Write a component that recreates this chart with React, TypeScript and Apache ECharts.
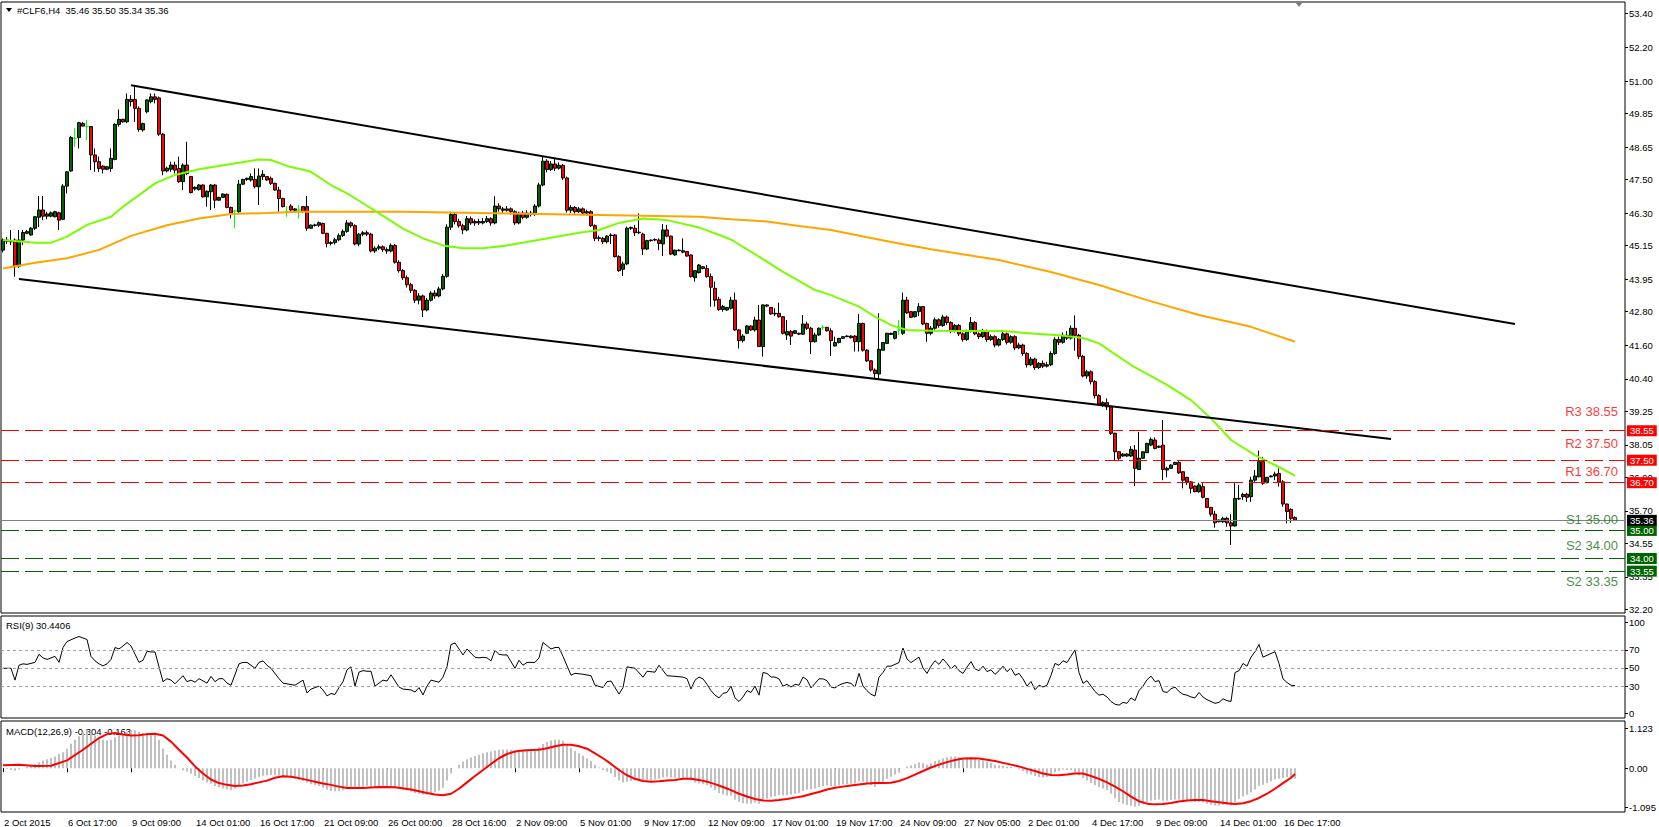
import React, { useEffect, useRef } from "react";
import * as echarts from "echarts";

const FONT = "Liberation Sans";

const timeLabels = [
  "2 Oct 2015", "6 Oct 17:00", "9 Oct 09:00", "14 Oct 01:00", "16 Oct 17:00",
  "21 Oct 09:00", "26 Oct 00:00", "28 Oct 16:00", "2 Nov 09:00", "5 Nov 01:00",
  "9 Nov 17:00", "12 Nov 09:00", "17 Nov 01:00", "19 Nov 17:00", "24 Nov 09:00",
  "27 Nov 05:00", "2 Dec 01:00", "4 Dec 17:00", "9 Dec 09:00", "14 Dec 01:00",
  "16 Dec 17:00",
];
const labelStep = 16;
const barSlots = 406;

// [open, close, low, high]
const ohlc: number[][] = [
  [44.98,45.34,44.90,45.40],[45.34,45.30,45.20,45.45],[45.30,45.28,45.16,45.70],[45.34,44.39,44.03,45.40],[44.41,45.34,44.35,45.70],
  [45.34,45.61,45.16,45.70],[45.58,45.64,45.55,45.70],[45.52,45.76,45.50,45.80],[45.76,46.17,45.70,46.20],[46.15,46.41,45.81,46.91],
  [46.41,46.19,46.05,46.91],[46.19,46.27,46.08,46.35],[46.19,46.31,46.15,46.36],[46.17,46.35,46.15,46.38],[46.31,46.05,45.70,46.35],
  [46.08,47.26,46.05,47.33],[47.26,47.77,47.00,47.80],[47.80,48.99,47.77,49.05],[48.96,48.96,48.66,49.32],[48.99,49.52,48.60,49.55],
  [49.49,49.40,49.38,49.55],[49.38,49.38,48.90,49.61],[49.38,48.37,47.83,49.40],[48.37,48.13,47.77,48.60],[48.13,47.89,47.77,48.31],
  [47.97,47.86,47.71,48.00],[47.86,47.95,47.83,47.97],[47.89,48.25,47.77,48.60],[48.21,49.46,48.18,49.50],[49.46,49.64,49.38,49.99],
  [49.64,49.55,49.52,49.66],[49.55,50.35,49.50,50.56],[50.35,50.27,50.10,50.50],[50.35,50.03,49.55,50.86],[50.03,49.28,49.20,50.10],
  [49.26,49.49,49.20,49.52],[49.91,50.33,49.85,50.35],[50.27,50.44,50.21,50.56],[50.44,50.35,50.21,50.56],[50.40,49.11,49.05,50.45],
  [49.11,47.80,47.65,49.15],[47.80,47.90,47.75,47.95],[47.86,48.01,47.77,48.13],[48.01,47.83,47.71,48.13],[47.89,47.42,47.38,48.31],
  [47.42,48.01,47.12,48.07],[48.01,47.71,47.65,48.84],[47.60,47.03,47.00,47.62],[47.22,47.16,47.10,47.25],[47.14,47.30,47.10,47.33],
  [47.30,46.88,46.85,47.33],[46.88,47.08,46.53,47.10],[47.06,47.30,46.41,47.33],[47.30,46.76,46.47,47.33],[46.76,46.86,46.74,46.88],
  [46.86,46.98,46.84,47.00],[46.97,46.50,46.47,47.00],[46.50,46.31,46.11,46.53],[46.38,46.38,45.76,46.41],[46.35,47.33,46.31,47.48],
  [47.33,47.50,47.30,47.52],[47.50,47.54,47.45,47.56],[47.48,47.60,47.42,47.71],[47.50,47.24,47.18,47.89],[47.24,47.62,46.59,47.89],
  [47.60,47.68,47.48,47.83],[47.60,47.48,47.45,47.62],[47.54,47.36,47.30,47.60],[47.36,47.12,47.10,47.38],[47.12,46.82,46.35,47.24],
  [46.82,46.53,46.50,46.85],[46.35,46.35,46.17,46.55],[46.55,46.41,46.35,46.62],[46.45,46.40,46.35,46.47],[46.41,46.41,46.11,46.59],
  [46.53,46.35,46.31,46.55],[46.53,45.76,45.67,46.91],[45.76,45.87,45.74,45.90],[45.88,45.86,45.82,45.92],[45.87,45.96,45.81,46.00],
  [45.93,45.58,45.55,45.96],[45.58,45.22,45.08,45.60],[45.22,45.25,45.15,45.30],[45.25,45.35,45.18,45.42],[45.35,45.50,45.30,45.58],
  [45.50,45.65,45.45,45.72],[45.65,45.95,45.60,46.05],[45.95,45.85,45.78,46.00],[45.85,45.20,45.15,45.90],[45.20,45.55,45.12,45.60],
  [45.55,45.60,45.48,45.66],[45.60,45.55,45.48,45.68],[45.55,44.95,44.90,45.60],[44.95,45.05,44.88,45.12],[45.05,45.10,44.98,45.18],
  [45.10,45.00,44.92,45.15],[45.00,44.95,44.85,45.08],[44.95,45.15,44.90,45.22],[45.15,44.55,44.50,45.20],[44.55,44.25,44.18,44.62],
  [44.25,44.00,43.92,44.30],[44.00,43.75,43.65,44.08],[43.75,43.55,43.45,43.82],[43.55,43.20,43.10,43.60],[43.20,43.35,43.05,43.45],
  [43.35,42.85,42.60,43.40],[42.85,43.20,42.80,43.28],[43.20,43.45,43.15,43.52],[43.45,43.35,43.25,43.55],[43.35,43.60,43.30,43.68],
  [43.60,44.05,43.55,44.12],[44.05,45.80,44.00,45.90],[45.80,46.25,45.70,46.35],[46.25,46.00,45.90,46.30],[46.00,45.85,45.78,46.10],
  [45.85,45.70,45.55,45.92],[45.70,46.10,45.65,46.20],[46.10,45.95,45.88,46.18],[45.95,46.00,45.85,46.08],[46.00,45.95,45.88,46.10],
  [45.95,46.00,45.90,46.12],[46.00,46.10,45.95,46.20],[46.10,45.95,45.85,46.15],[45.95,46.55,45.90,46.90],[46.55,46.45,46.35,46.65],
  [46.45,46.40,46.30,46.52],[46.40,46.45,46.35,46.55],[46.45,46.35,46.25,46.50],[46.35,45.95,45.88,46.40],[45.95,46.30,45.90,46.35],
  [46.30,46.15,46.08,46.38],[46.15,46.30,46.10,46.40],[46.30,46.25,46.18,46.38],[46.25,46.55,46.20,46.62],[46.55,47.30,46.50,47.38],
  [47.30,48.15,47.25,48.30],[48.15,47.85,47.75,48.22],[47.85,48.05,47.80,48.15],[48.05,47.90,47.80,48.25],[47.90,48.00,47.85,48.10],
  [48.00,47.55,47.48,48.05],[47.55,46.40,46.32,47.60],[46.40,46.50,46.30,46.58],[46.50,46.35,46.28,46.55],[46.35,46.45,46.30,46.52],
  [46.45,46.30,46.22,46.50],[46.30,46.35,46.25,46.42],[46.35,45.85,45.80,46.40],[45.85,45.40,45.30,45.90],[45.40,45.42,45.30,45.50],
  [45.40,45.28,45.20,45.45],[45.28,45.48,45.22,45.52],[45.50,45.52,45.20,45.58],[45.52,44.75,44.72,45.55],[44.75,44.25,44.21,44.80],
  [44.30,44.49,44.06,44.57],[44.49,45.76,44.45,45.82],[45.76,45.79,45.70,45.82],[45.76,45.60,45.48,45.88],[45.62,45.60,45.55,46.29],
  [45.55,45.02,44.81,45.60],[45.02,45.32,44.98,45.35],[45.32,45.34,45.28,45.36],[45.34,45.36,45.30,45.40],[45.34,45.22,44.98,45.40],
  [45.20,45.70,44.77,45.91],[45.70,45.48,45.44,45.88],[45.48,44.84,44.81,45.50],[44.81,44.98,44.78,45.00],[44.98,44.96,44.94,45.01],
  [44.96,44.91,44.87,45.40],[44.93,44.77,44.75,44.95],[44.81,44.04,44.00,44.83],[44.00,44.25,43.86,44.27],[44.18,44.45,44.15,44.49],
  [44.39,44.33,44.30,44.42],[44.33,44.04,44.00,44.45],[44.04,43.66,42.97,44.15],[43.62,43.20,42.97,43.86],[43.23,42.87,42.82,43.32],
  [42.87,42.97,42.79,43.03],[42.85,42.94,42.82,42.96],[42.91,43.20,42.87,43.32],[43.20,42.14,42.11,43.47],[42.14,41.76,41.48,42.16],
  [41.76,41.92,41.69,41.99],[42.02,42.28,41.99,42.31],[42.28,42.14,42.10,42.30],[42.14,42.49,42.08,42.61],[42.49,41.55,41.55,43.03],
  [41.55,43.03,41.19,43.05],[43.03,42.99,42.95,43.05],[42.94,42.71,42.68,42.96],[42.73,42.71,42.63,42.91],[42.73,42.61,42.58,43.11],
  [42.61,42.02,41.98,42.63],[41.96,42.08,41.78,42.49],[42.08,41.92,41.60,42.14],[42.02,42.11,41.99,42.13],[42.02,41.99,41.96,42.04],
  [41.99,42.35,41.96,42.67],[42.35,42.20,42.14,42.43],[42.20,41.72,41.28,42.25],[41.72,41.96,41.69,42.04],[41.96,42.20,41.93,42.23],
  [42.23,42.23,42.14,42.31],[42.23,42.11,42.08,42.25],[42.11,41.76,41.21,42.20],[41.57,41.69,41.55,41.90],[41.69,41.84,41.66,41.86],
  [41.84,41.90,41.82,41.92],[41.90,41.92,41.88,41.95],[41.92,41.86,41.84,41.95],[41.92,41.72,41.37,41.95],[41.72,42.37,41.37,42.71],
  [42.37,41.42,41.37,42.40],[41.42,41.04,41.00,41.45],[41.04,40.71,40.65,41.06],[40.71,40.59,40.41,40.77],[40.57,41.45,40.38,42.73],
  [41.42,41.69,41.40,41.70],[41.66,42.02,41.64,42.04],[41.98,42.02,41.96,42.04],[41.84,42.08,41.80,42.10],[42.14,42.14,41.96,42.49],
  [42.02,43.20,41.96,43.47],[43.20,42.75,42.71,43.32],[42.79,42.59,42.56,42.80],[42.61,42.79,42.58,42.80],[42.79,42.97,42.63,43.09],
  [42.97,42.35,42.31,42.99],[42.37,42.02,41.72,42.40],[42.02,42.20,41.95,42.28],[42.20,42.50,42.15,42.58],[42.50,42.30,42.22,42.55],
  [42.30,42.60,42.25,42.68],[42.60,42.40,42.32,42.65],[42.40,42.10,42.02,42.45],[42.10,42.30,42.05,42.35],[42.30,42.00,41.92,42.35],
  [42.00,41.80,41.72,42.05],[41.80,42.10,41.75,42.15],[42.10,42.40,42.05,42.60],[42.40,42.00,41.95,42.45],[42.00,41.90,41.82,42.05],
  [41.90,42.10,41.85,42.18],[42.10,41.80,41.72,42.15],[41.80,41.90,41.75,41.98],[41.90,41.60,41.52,41.95],[41.60,41.80,41.55,41.85],
  [41.80,42.00,41.75,42.08],[42.00,41.70,41.62,42.05],[41.70,41.90,41.65,41.95],[41.90,41.50,41.42,41.95],[41.50,41.60,41.45,41.68],
  [41.60,41.30,41.22,41.65],[41.30,40.90,40.80,41.35],[40.90,41.10,40.85,41.18],[41.10,40.80,40.72,41.15],[40.80,40.95,40.75,41.00],
  [40.95,40.85,40.78,41.05],[40.85,40.90,40.80,41.00],[40.90,41.30,40.85,41.38],[41.30,41.80,41.25,41.88],[41.80,41.70,41.60,41.90],
  [41.70,41.95,41.65,42.05],[41.95,41.85,41.78,42.10],[41.85,42.20,41.80,42.30],[42.20,41.95,41.40,42.66],[41.95,41.20,41.10,42.00],
  [41.20,40.50,40.45,41.25],[40.50,40.65,40.40,40.72],[40.65,40.30,40.20,40.70],[40.30,39.80,39.70,40.35],[39.80,39.50,39.45,39.85],
  [39.45,39.55,39.40,39.60],[39.55,39.40,39.29,39.70],[39.40,38.46,38.40,39.42],[38.46,37.80,37.51,38.48],[37.80,37.57,37.48,37.82],
  [37.65,37.72,37.62,37.75],[37.72,37.65,37.62,37.75],[37.65,37.89,37.62,38.00],[37.86,37.21,36.58,38.04],[37.17,37.57,37.15,38.51],
  [37.57,37.80,37.55,37.82],[37.77,38.10,37.75,38.12],[38.04,38.24,38.00,38.31],[38.22,37.92,37.89,38.31],[37.96,38.00,37.94,38.02],
  [38.04,37.17,36.79,38.93],[37.21,37.15,36.89,37.27],[37.21,37.33,37.20,37.35],[37.35,37.42,37.33,37.45],[37.42,37.05,37.01,37.48],
  [37.09,36.79,36.50,37.10],[36.89,36.73,36.62,36.91],[36.73,36.50,36.32,36.75],[36.58,36.38,36.36,36.60],[36.38,36.62,36.34,36.70],
  [36.56,36.18,36.14,36.68],[36.14,35.82,35.80,36.15],[35.82,35.58,35.49,35.84],[35.58,35.27,35.10,35.70],[35.37,35.31,35.29,35.39],
  [35.31,35.43,35.27,35.49],[35.43,35.27,35.13,35.49],[35.27,35.16,34.48,35.58],[35.16,36.14,35.13,36.68],[36.14,36.12,36.08,36.62],
  [36.20,36.28,36.08,36.34],[36.29,36.18,36.02,36.34],[36.20,36.79,36.02,36.91],[36.79,36.94,36.73,37.15],[36.91,37.45,36.89,37.84],
  [37.45,36.68,36.62,37.62],[36.70,36.89,36.68,36.91],[36.91,36.94,36.89,36.96],[36.94,37.01,36.79,37.09],[37.03,36.73,36.56,37.21],
  [36.73,35.94,35.84,36.79],[35.94,35.67,35.25,35.96],[35.75,35.43,35.27,35.79],[35.46,35.36,35.34,35.50],
];

// moving averages as [bar, value]
const maGreen: number[][] = [
  [0,45.34],[8,45.24],[12,45.24],[16,45.46],[21,45.88],[27,46.17],[30,46.53],[34,46.94],[38,47.36],[43,47.66],
  [49,47.86],[57,48.05],[64,48.21],[67,48.19],[71,47.98],[77,47.77],[82,47.30],[86,47.00],[90,46.65],[95,46.20],
  [100,45.75],[105,45.40],[110,45.15],[115,45.05],[120,45.05],[126,45.15],[132,45.30],[138,45.45],[144,45.60],[149,45.70],
  [154,45.95],[160,46.11],[166,46.05],[174,45.79],[182,45.36],[189,44.75],[195,44.21],[199,43.89],[203,43.56],[207,43.38],
  [214,42.97],[218,42.61],[222,42.31],[226,42.14],[232,42.11],[240,42.10],[250,42.10],[258,42.00],[264,41.95],[270,41.85],
  [274,41.66],[282,40.89],[291,40.18],[297,39.64],[302,38.99],[307,38.22],[313,37.68],[318,37.33],[323,36.95],
];
const maOrange: number[][] = [
  [0,44.33],[8,44.53],[16,44.69],[24,44.99],[32,45.49],[41,45.87],[49,46.11],[57,46.27],[66,46.30],[74,46.35],
  [82,46.35],[100,46.35],[130,46.28],[149,46.23],[174,46.17],[182,46.08],[191,46.00],[199,45.84],[207,45.70],[216,45.44],
  [224,45.22],[232,45.01],[249,44.63],[262,44.20],[274,43.74],[286,43.20],[299,42.67],[312,42.25],[323,41.72],
];

// RSI(9) as [bar, value]
const rsi: number[][] = [
  [0,49.7],[2,49.7],[3,36.6],[4,53],[5,54.6],[6,54],[8,56.2],[9,65.1],[10,61.2],[11,59.5],[13,62.8],[14,56.2],[15,72.6],
  [16,79.2],[18,83.1],[19,84.8],[20,83.1],[21,81.5],[22,62.8],[23,57.9],[24,54.6],[25,52.3],[26,54.6],[27,59.5],[28,72.6],
  [29,71],[30,74.3],[31,78.2],[32,74.3],[34,56.2],[35,58.5],[36,68.4],[37,67.7],[38,67.7],[39,51.3],[40,34.9],[41,38.2],
  [42,36.6],[43,32.6],[45,41.5],[46,34.9],[47,36.6],[48,34.3],[49,38.2],[51,33.3],[52,40.8],[53,34.9],[54,38.2],[55,38.2],
  [56,33.3],[57,31],[59,54.6],[60,56.2],[61,56.2],[63,49.7],[64,56.2],[65,57.9],[66,53],[67,49.7],[69,38.2],[70,33.3],
  [72,31.7],[73,31],[75,36.6],[76,22.5],[77,26.7],[79,30],[80,25.8],[81,19.2],[82,21.8],[83,20.8],[84,28.4],[85,34.9],
  [86,48],[87,51.3],[88,30],[89,45.4],[90,47.1],[91,46.4],[92,46.4],[93,30],[94,33.3],[95,36.6],[96,35.6],[97,42.5],
  [99,29],[100,26.7],[102,25.8],[103,23.5],[104,28.4],[105,20.2],[106,30],[107,36.6],[109,34.3],[110,39.9],[111,51.3],
  [112,75.9],[113,77.6],[114,71],[115,64.4],[116,71],[118,61.8],[119,61.2],[120,61.8],[121,61.2],[122,57.9],[123,69.4],
  [124,65.1],[125,64.4],[126,64.4],[128,49.7],[129,58.5],[130,53],[131,56.2],[133,56.2],[134,61.2],[135,78.2],[137,71],
  [138,72.6],[139,72.6],[140,62.8],[142,42.1],[143,44.1],[145,43.1],[147,41.5],[148,31],[150,28.4],[151,34.9],[152,35.6],
  [154,21.2],[155,28.4],[156,51.3],[158,49.7],[160,39.9],[161,46.4],[163,45.4],[164,53],[166,41.5],[168,40.8],[170,39.9],
  [171,38.2],[172,26.7],[173,36.6],[174,40],[175,38],[176,32],[177,25],[178,20],[179,17],[180,22],[181,23],[182,30],
  [183,17],[184,13],[185,18],[186,25],[187,23],[188,30],[189,20],[190,45],[191,44],[192,40],[193,40],[194,38],[195,30],
  [196,32],[197,29],[198,32],[199,31],[200,40],[201,37],[202,28],[203,33],[204,38],[205,38],[206,36],[207,29],[208,28],
  [209,31],[210,33],[211,34],[212,33],[213,29],[214,44],[215,30],[216,25],[217,21],[218,19],[219,40],[220,45],[221,52],
  [222,52],[223,54],[224,56],[225,72],[226,60],[227,56],[228,59],[229,62],[230,50],[231,44],[232,52],[233,58],[234,54],
  [235,60],[236,55],[237,49],[238,53],[239,47],[240,44],[241,51],[242,57],[243,49],[244,47],[245,52],[246,46],[247,48],
  [248,43],[249,47],[250,52],[251,46],[252,50],[253,42],[254,44],[255,38],[256,30],[257,35],[258,26],[259,31],[260,29],
  [261,31],[262,42],[263,55],[264,53],[265,58],[266,56],[267,63],[268,70],[269,45],[270,33],[271,36],[272,30],[273,24],
  [274,20],[275,21],[276,18],[277,13],[278,10],[279,9],[280,12],[281,11],[282,17],[283,14],[284,25],[285,30],[286,37],
  [287,41],[288,35],[289,36],[290,24],[291,23],[292,27],[293,29],[294,24],[295,21],[296,20],[297,18],[298,17],[299,23],
  [300,18],[301,15],[302,13],[303,11],[304,12],[305,16],[306,14],[307,13],[308,45],[309,47],[310,55],[311,52],[312,62],
  [313,68],[314,76],[315,62],[316,64],[317,66],[318,68],[319,55],[320,38],[321,34],[322,31],[323,30.44],
];

// MACD(12,26,9) main histogram, one value per bar
const macdMain: number[] = [
  0.00,-0.02,-0.05,-0.07,-0.04,0.00,0.03,0.07,0.12,0.17,
  0.22,0.25,0.29,0.33,0.40,0.45,0.55,0.69,0.80,0.90,
  1.01,1.08,1.00,0.92,0.85,0.80,0.78,0.80,0.87,0.93,
  0.97,1.02,1.06,1.07,1.03,1.00,1.00,0.99,0.95,0.80,
  0.55,0.38,0.22,0.10,0.00,-0.06,-0.10,-0.16,-0.22,-0.28,
  -0.35,-0.40,-0.44,-0.50,-0.54,-0.57,-0.60,-0.62,-0.58,-0.50,
  -0.43,-0.38,-0.33,-0.29,-0.25,-0.21,-0.20,-0.19,-0.20,-0.21,
  -0.23,-0.25,-0.27,-0.30,-0.33,-0.36,-0.40,-0.45,-0.48,-0.50,
  -0.55,-0.60,-0.64,-0.65,-0.65,-0.62,-0.58,-0.55,-0.57,-0.55,
  -0.52,-0.50,-0.52,-0.53,-0.52,-0.52,-0.53,-0.53,-0.55,-0.57,
  -0.60,-0.63,-0.66,-0.70,-0.72,-0.75,-0.74,-0.72,-0.68,-0.63,
  -0.55,-0.35,-0.15,0.00,0.10,0.18,0.25,0.30,0.34,0.38,
  0.42,0.45,0.47,0.50,0.52,0.53,0.53,0.52,0.50,0.50,
  0.50,0.50,0.52,0.55,0.60,0.68,0.74,0.78,0.80,0.80,
  0.77,0.66,0.57,0.49,0.42,0.35,0.28,0.20,0.10,0.02,
  -0.05,-0.10,-0.15,-0.25,-0.35,-0.40,-0.38,-0.36,-0.35,-0.33,
  -0.35,-0.35,-0.34,-0.32,-0.30,-0.26,-0.24,-0.26,-0.27,-0.28,
  -0.28,-0.29,-0.35,-0.40,-0.43,-0.45,-0.48,-0.55,-0.62,-0.70,
  -0.74,-0.77,-0.78,-0.88,-0.95,-0.99,-1.00,-1.00,-0.97,-1.00,
  -0.92,-0.86,-0.82,-0.79,-0.76,-0.77,-0.76,-0.75,-0.72,-0.70,
  -0.64,-0.60,-0.60,-0.57,-0.53,-0.50,-0.48,-0.50,-0.50,-0.49,
  -0.47,-0.45,-0.43,-0.43,-0.37,-0.38,-0.42,-0.48,-0.53,-0.45,
  -0.38,-0.30,-0.24,-0.18,-0.12,0.00,0.05,0.08,0.12,0.16,
  0.14,0.10,0.14,0.20,0.24,0.28,0.31,0.33,0.33,0.31,
  0.27,0.26,0.29,0.26,0.23,0.22,0.18,0.15,0.10,0.08,
  0.07,0.05,0.04,0.00,-0.03,-0.08,-0.15,-0.18,-0.22,-0.25,
  -0.26,-0.25,-0.20,-0.12,-0.08,-0.04,-0.05,-0.06,-0.12,-0.20,
  -0.28,-0.35,-0.42,-0.48,-0.53,-0.57,-0.62,-0.72,-0.85,-0.95,
  -1.00,-1.04,-1.06,-1.09,-1.06,-1.02,-0.97,-0.92,-0.90,-0.88,
  -0.92,-0.92,-0.90,-0.88,-0.88,-0.90,-0.91,-0.93,-0.95,-0.95,
  -0.97,-1.00,-1.03,-1.05,-1.05,-1.04,-1.04,-1.05,-0.95,-0.86,
  -0.80,-0.75,-0.68,-0.60,-0.50,-0.47,-0.42,-0.37,-0.32,-0.30,
  -0.28,-0.25,-0.27,-0.30,
];

// MACD signal as [bar, value]
const macdSignal: number[][] = [
  [0,0.08],[4,0.10],[8,0.06],[12,0.07],[16,0.22],[20,0.52],[24,0.85],[26,0.96],[28,0.99],[30,0.95],[32,0.92],[34,0.93],
  [36,0.96],[38,0.97],[40,0.92],[42,0.75],[44,0.52],[46,0.30],[48,0.05],[50,-0.15],[52,-0.32],[54,-0.42],[56,-0.47],
  [58,-0.50],[60,-0.49],[62,-0.45],[64,-0.40],[66,-0.35],[68,-0.27],[70,-0.23],[72,-0.24],[74,-0.28],[76,-0.33],
  [78,-0.38],[80,-0.43],[82,-0.47],[84,-0.52],[86,-0.56],[90,-0.56],[94,-0.53],[98,-0.54],[102,-0.60],[106,-0.70],
  [108,-0.74],[110,-0.76],[112,-0.72],[114,-0.58],[116,-0.40],[118,-0.22],[120,-0.05],[122,0.12],[124,0.28],[126,0.40],
  [128,0.47],[130,0.50],[132,0.51],[134,0.52],[136,0.56],[138,0.62],[140,0.66],[142,0.66],[144,0.62],[146,0.55],
  [148,0.42],[150,0.28],[152,0.12],[154,-0.05],[156,-0.20],[158,-0.30],[160,-0.36],[162,-0.38],[164,-0.37],[166,-0.35],
  [168,-0.33],[170,-0.30],[172,-0.30],[174,-0.33],[176,-0.38],[178,-0.45],[180,-0.53],[182,-0.62],[184,-0.72],[186,-0.80],
  [188,-0.87],[190,-0.91],[192,-0.92],[194,-0.90],[196,-0.87],[198,-0.83],[200,-0.79],[202,-0.73],[204,-0.67],[206,-0.60],
  [208,-0.55],[210,-0.52],[212,-0.49],[214,-0.46],[216,-0.43],[218,-0.42],[220,-0.42],[222,-0.41],[224,-0.36],[226,-0.28],
  [228,-0.18],[230,-0.08],[232,0.02],[234,0.10],[236,0.17],[238,0.23],[240,0.27],[242,0.28],[244,0.27],[246,0.24],
  [248,0.20],[250,0.15],[252,0.10],[254,0.05],[256,-0.02],[258,-0.08],[260,-0.15],[262,-0.19],[264,-0.20],[266,-0.18],
  [268,-0.15],[270,-0.15],[272,-0.22],[274,-0.30],[276,-0.40],[278,-0.52],[280,-0.65],[282,-0.80],[284,-0.93],[286,-1.00],
  [288,-1.02],[290,-1.01],[292,-0.98],[294,-0.94],[296,-0.91],[298,-0.90],[300,-0.90],[302,-0.93],[304,-0.96],[306,-0.99],
  [308,-1.01],[310,-0.99],[312,-0.93],[314,-0.84],[316,-0.72],[318,-0.58],[320,-0.42],[322,-0.27],[323,-0.163],
];

// channel trend lines as [bar, price]
const channelUpper: number[][] = [[32, 50.85], [378, 42.35]];
const channelLower: number[][] = [[4, 43.95], [347, 38.26]];

const RED = "#ff0000";
const DKGREEN = "#006400";
const levels = [
  { value: 38.55, color: RED },
  { value: 37.5, color: RED },
  { value: 36.7, color: RED },
  { value: 35.0, color: DKGREEN },
  { value: 34.0, color: DKGREEN },
  { value: 33.55, color: DKGREEN },
];
const lastPrice = 35.36;

// text objects on the chart: label and the price where the text sits
const noteTexts = ["R3 38.55", "R2 37.50", "R1 36.70", "S1 35.00", "S2 34.00", "S2 33.35"];
const noteAnchors = [39.23, 38.08, 37.09, 35.4, 34.47, 33.17];
const noteBar = 404;

const priceTicks = [53.4, 52.2, 51.0, 49.85, 48.65, 47.5, 46.3, 45.15, 43.95, 42.8, 41.6, 40.4, 39.25, 38.05, 36.9, 35.7, 34.55, 33.35, 32.2];
const rsiTicks = [0, 30, 50, 70, 100];
const rsiLevels = [70, 50, 30];
const macdTicks = [-1.095, 0, 1.123];

const W = 1659;
const H = 827;

export default function App() {
  const ref = useRef<HTMLDivElement>(null);
  useEffect(() => {
    if (!ref.current) return;
    const chart = echarts.init(ref.current, undefined, { renderer: "svg" });
    const cats = Array.from({ length: barSlots }, (_, i) => String(i));
    const grids = [
      { left: 1, right: 34, top: 2, height: 611 },
      { left: 1, right: 34, top: 616, height: 102 },
      { left: 1, right: 34, top: 721, height: 91 },
    ].map((g) => ({ ...g, show: true, borderColor: "#000", borderWidth: 1, backgroundColor: "transparent" }));

    const hiddenX = (gi: number) => ({
      type: "category", gridIndex: gi, data: cats, boundaryGap: true,
      axisLine: { show: false }, axisTick: { show: false }, axisLabel: { show: false }, splitLine: { show: false },
    });
    const yBase = (gi: number, min: number, max: number, ticks: number[], fmt: (v: number) => string) => ({
      type: "value", gridIndex: gi, position: "right", min, max,
      axisLine: { show: false },
      splitLine: { show: false },
      axisTick: { show: true, length: 3, inside: false, customValues: ticks, lineStyle: { color: "#000" } },
      axisLabel: { show: true, customValues: ticks, formatter: fmt, margin: 4, color: "#000", fontFamily: FONT, fontSize: 9.5 },
    });

    const candleData = ohlc.map(([o, c, l, h]) =>
      o === c
        ? { value: [o, c, l, h], itemStyle: { borderColor: "#00ff00", borderColor0: "#00ff00", color: "#00ff00", color0: "#00ff00" } }
        : { value: [o, c, l, h] }
    );

    const levelLines = levels.map((lv) => ({
      yAxis: lv.value,
      lineStyle: { color: lv.color, type: [18, 6], width: 1 },
      label: {
        show: true, position: "end", distance: 2, formatter: lv.value.toFixed(2), color: "#fff",
        backgroundColor: lv.color, padding: [1, 3, 0, 3], fontFamily: FONT, fontSize: 9.5,
      },
    }));
    const priceLine = {
      yAxis: lastPrice,
      lineStyle: { color: "#808080", type: "solid", width: 1 },
      label: {
        show: true, position: "end", distance: 2, formatter: lastPrice.toFixed(2), color: "#fff",
        backgroundColor: "#000", padding: [1, 3, 0, 3], fontFamily: FONT, fontSize: 9.5,
      },
    };

    const noteData = noteTexts.map((t, i) => ({
      value: [noteBar, noteAnchors[i]],
      label: {
        show: true, position: "left", distance: 0, align: "right", verticalAlign: "middle",
        formatter: t, fontFamily: FONT, fontSize: 13,
        color: t.startsWith("R") ? RED : "#147014",
      },
    }));

    const option: any = {
      animation: false,
      backgroundColor: "#fff",
      grid: grids,
      xAxis: [
        hiddenX(0),
        hiddenX(1),
        {
          type: "category", gridIndex: 2, data: cats, boundaryGap: true,
          axisLine: { show: false },
          splitLine: { show: false },
          axisTick: { show: true, alignWithLabel: true, length: 4, interval: (i: number) => i % labelStep === 0 && i / labelStep < timeLabels.length, lineStyle: { color: "#000" } },
          axisLabel: {
            show: true, interval: (i: number) => i % labelStep === 0 && i / labelStep < timeLabels.length,
            formatter: (_v: string, i: number) => (i % labelStep === 0 ? timeLabels[i / labelStep] || "" : ""),
            align: "left", margin: 5, color: "#000", fontFamily: FONT, fontSize: 9.5, padding: [0, 0, 0, 1],
          },
        },
      ],
      yAxis: [
        yBase(0, 32.06, 53.817, priceTicks, (v: number) => v.toFixed(2)),
        yBase(1, -5.2, 107.4, rsiTicks, (v: number) => String(Math.round(v))),
        yBase(2, -1.235, 1.33, macdTicks, (v: number) => (Math.abs(v) < 1e-9 ? "0.00" : v.toFixed(3))),
      ],
      series: [
        {
          type: "candlestick", xAxisIndex: 0, yAxisIndex: 0, barWidth: 3, z: 2,
          itemStyle: { color: DKGREEN, color0: RED, borderColor: "#000", borderColor0: "#000", borderWidth: 1 },
          data: candleData,
        },
        {
          type: "line", xAxisIndex: 0, yAxisIndex: 0, data: maOrange, showSymbol: false, symbol: "none", z: 3,
          lineStyle: { color: "#ffa500", width: 2 },
        },
        {
          type: "line", xAxisIndex: 0, yAxisIndex: 0, data: maGreen, showSymbol: false, symbol: "none", z: 3,
          lineStyle: { color: "#7cfc00", width: 2 },
        },
        {
          type: "line", xAxisIndex: 0, yAxisIndex: 0, data: channelUpper, showSymbol: false, symbol: "none", z: 4,
          lineStyle: { color: "#000", width: 2 },
        },
        {
          type: "line", xAxisIndex: 0, yAxisIndex: 0, data: channelLower, showSymbol: false, symbol: "none", z: 4,
          lineStyle: { color: "#000", width: 2 },
          markLine: { silent: true, symbol: "none", animation: false, data: [...levelLines, priceLine], z: 5 },
        },
        {
          type: "scatter", xAxisIndex: 0, yAxisIndex: 0, data: noteData, symbol: "circle", symbolSize: 2, z: 6,
          itemStyle: { color: "rgba(255,255,255,0)" },
          labelLayout: { hideOverlap: false },
        },
        {
          type: "line", xAxisIndex: 1, yAxisIndex: 1, data: rsi, showSymbol: false, symbol: "none", z: 3,
          lineStyle: { color: "#000", width: 1 },
          markLine: {
            silent: true, symbol: "none", label: { show: false },
            lineStyle: { color: "#a0a0a0", type: [3, 3], width: 1 },
            data: rsiLevels.map((v) => ({ yAxis: v })),
          },
        },
        {
          type: "bar", xAxisIndex: 2, yAxisIndex: 2, data: macdMain, barWidth: 2, z: 2,
          itemStyle: { color: "#c0c0c0" },
        },
        {
          type: "line", xAxisIndex: 2, yAxisIndex: 2, data: macdSignal, showSymbol: false, symbol: "none", z: 3,
          lineStyle: { color: RED, width: 2 },
        },
      ],
      graphic: [
        { type: "polygon", shape: { points: [[6, 8], [12, 8], [9, 12]] }, style: { fill: "#000" } },
        { type: "text", x: 17, y: 10, style: { text: "#CLF6,H4  35.46 35.50 35.34 35.36", fontFamily: FONT, fontSize: 9.5, fill: "#000", textVerticalAlign: "middle" } },
        { type: "text", x: 6, y: 625, style: { text: "RSI(9) 30.4406", fontFamily: FONT, fontSize: 9.5, fill: "#000", textVerticalAlign: "middle" } },
        { type: "text", x: 6, y: 731, style: { text: "MACD(12,26,9) -0.304 -0.163", fontFamily: FONT, fontSize: 9.5, fill: "#000", textVerticalAlign: "middle" } },
        { type: "polygon", shape: { points: [[1295, 2], [1303, 2], [1299, 7]] }, style: { fill: "#808080" } },
      ],
    };
    chart.setOption(option);
    return () => chart.dispose();
  }, []);
  return (
    <div
      ref={ref}
      style={{ position: "fixed", left: 0, top: 0, width: W, height: H, background: "#fff" }}
    />
  );
}
